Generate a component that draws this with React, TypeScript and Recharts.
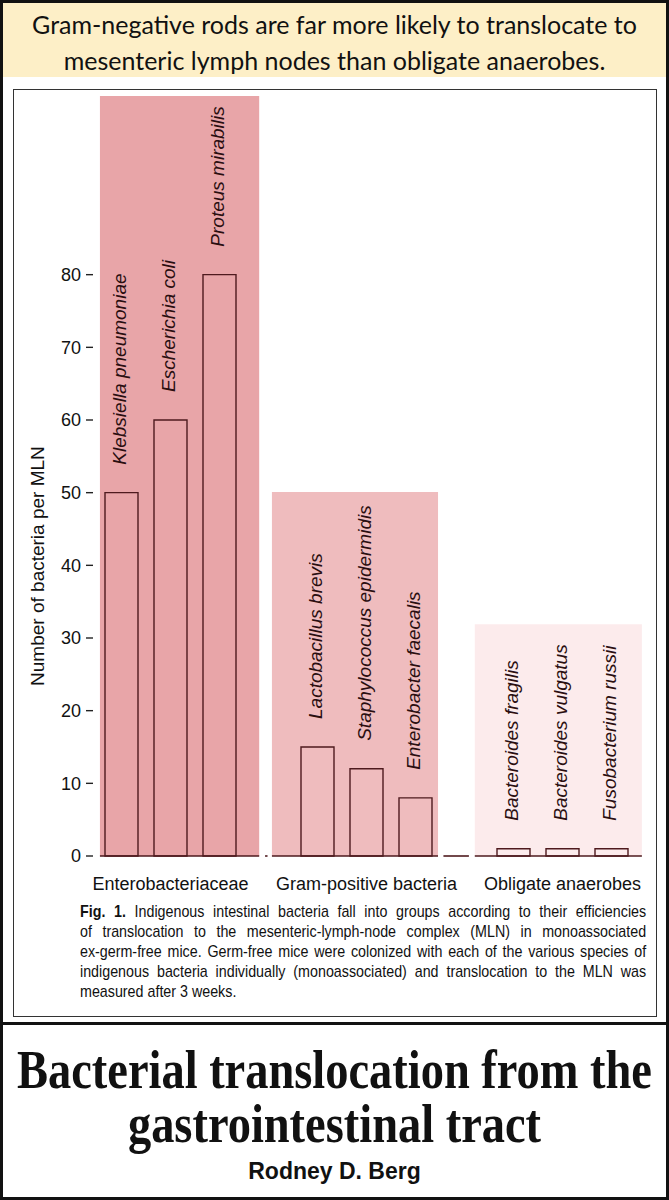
import React from "react";
import {
  BarChart,
  Bar,
  XAxis,
  YAxis,
  ReferenceArea,
  ReferenceLine,
  LabelList,
} from "recharts";

const groups = ["Enterobacteriaceae", "Gram-positive bacteria", "Obligate anaerobes"];

const enterobacteria = ["Klebsiella pneumoniae", "Escherichia coli", "Proteus mirabilis"];
const enterobacteriaValues = [50, 60, 80];

const gramPositive = ["Lactobacillus brevis", "Staphylococcus epidermidis", "Enterobacter faecalis"];
const gramPositiveValues = [15, 12, 8];

const anaerobes = ["Bacteroides fragilis", "Bacteroides vulgatus", "Fusobacterium russii"];
const anaerobeValues = [1, 1, 1];

const yTicks = [0, 10, 20, 30, 40, 50, 60, 70, 80];

// height of the shaded panel behind each group, in y units
const panelTops = [104.6, 50.1, 31.9];

const captionLines = [
  "Indigenous intestinal bacteria fall into groups according to their efficiencies",
  "of translocation to the mesenteric-lymph-node complex (MLN) in monoassociated",
  "ex-germ-free mice. Germ-free mice were colonized with each of the various species of",
  "indigenous bacteria individually (monoassociated) and translocation to the MLN was",
  "measured after 3 weeks.",
];

// layout only: panel spans on the hidden slot axis (slot i = centre of bar i)
const PANEL_SPANS = [
  [-0.44, 2.81],
  [3.07, 6.46],
  [7.21, 10.62],
];
const PANEL_COLORS = ["#e8a5a8", "#efbcbe", "#fcebec"];
const BAR_STROKE = "#4e1a1e";

const speciesByGroup = [enterobacteria, gramPositive, anaerobes];
const valuesByGroup = [enterobacteriaValues, gramPositiveValues, anaerobeValues];

type Row = { key: string; name: string; value: number | null; group: string; mid: boolean; slot: number };
const rows: Row[] = [];
speciesByGroup.forEach((list, g) => {
  if (g > 0) rows.push({ key: `gap${g}`, name: "", value: null, group: "", mid: false, slot: rows.length });
  list.forEach((name, i) =>
    rows.push({
      key: name,
      name,
      value: valuesByGroup[g][i],
      group: groups[g],
      mid: i === 1,
      slot: rows.length,
    })
  );
});

const SANS = "'Liberation Sans', Arial, sans-serif";

const YTick = (props: any) => {
  const { x, y, payload } = props;
  return (
    <g>
      <text x={x} y={y} dy="0.36em" textAnchor="end" fontSize={18} fontFamily={SANS} fill="#111">
        {payload.value}
      </text>
      <line x1={x + 5} x2={x + 12} y1={y} y2={y} stroke="#222" strokeWidth={1.4} />
    </g>
  );
};

const XTick = (props: any) => {
  const { x, y, payload } = props;
  const row = rows.find((r) => r.key === payload.value);
  if (!row || !row.mid) return null;
  return (
    <text x={x} y={y + 34} textAnchor="middle" fontSize={18} fontFamily={SANS} fill="#111">
      {row.group}
    </text>
  );
};

const YTitle = (props: any) => {
  const { viewBox } = props;
  const cx = viewBox.x + 21;
  const cy = viewBox.y + viewBox.height * 0.62;
  return (
    <text
      x={cx}
      y={cy}
      transform={`rotate(-90 ${cx} ${cy})`}
      textAnchor="middle"
      dominantBaseline="central"
      fontSize={19}
      fontFamily={SANS}
      fill="#111"
    >
      Number of bacteria per MLN
    </text>
  );
};

const SpeciesLabel = (props: any) => {
  const { x, y, width, value } = props;
  if (!value) return null;
  const cx = Number(x) + Number(width) / 2 - 2;
  const ty = Number(y) - 28;
  return (
    <text
      x={cx}
      y={ty}
      transform={`rotate(-90 ${cx} ${ty})`}
      dominantBaseline="central"
      fontStyle="italic"
      fontSize={19}
      fontFamily={SANS}
      fill="#2a0e10"
    >
      {value}
    </text>
  );
};

function TranslocationChart() {
  return (
    <BarChart
      width={669}
      height={900}
      data={rows}
      margin={{ top: 93, right: 33, left: 17, bottom: 0 }}
    >
      <XAxis
        dataKey="key"
        type="category"
        axisLine={false}
        tickLine={false}
        tickSize={0}
        tickMargin={0}
        interval={0}
        height={44}
        tick={<XTick />}
      />
      <XAxis
        xAxisId="slots"
        dataKey="slot"
        type="number"
        domain={[0, 10]}
        padding={{ left: 24.5, right: 24.5 }}
        allowDataOverflow
        hide
      />
      <YAxis
        type="number"
        domain={[0, 105]}
        ticks={yTicks}
        width={80}
        axisLine={false}
        tickLine={false}
        tickSize={7}
        tickMargin={9}
        tick={<YTick />}
        label={<YTitle />}
      />
      {PANEL_SPANS.map(([a, b], i) => (
        <ReferenceArea
          key={`panel${i}`}
          xAxisId="slots"
          x1={a}
          x2={b}
          y1={0}
          y2={panelTops[i]}
          fill={PANEL_COLORS[i]}
          fillOpacity={1}
          stroke="none"
          ifOverflow="visible"
        />
      ))}
      {PANEL_SPANS.map(([a, b], i) => (
        <ReferenceLine
          key={`base${i}`}
          xAxisId="slots"
          segment={[{ x: a, y: 0 }, { x: b, y: 0 }]}
          stroke={BAR_STROKE}
          strokeWidth={1.6}
          ifOverflow="visible"
        />
      ))}
      <ReferenceLine
        xAxisId="slots"
        segment={[{ x: 2.93, y: 0 }, { x: 2.98, y: 0 }]}
        stroke={BAR_STROKE}
        strokeWidth={1.6}
        ifOverflow="visible"
      />
      <ReferenceLine
        xAxisId="slots"
        segment={[{ x: 6.57, y: 0 }, { x: 7.09, y: 0 }]}
        stroke={BAR_STROKE}
        strokeWidth={1.6}
        ifOverflow="visible"
      />
      <Bar
        dataKey="value"
        barSize={33}
        fill="none"
        stroke={BAR_STROKE}
        strokeWidth={1.4}
        isAnimationActive={false}
      >
        <LabelList dataKey="name" content={<SpeciesLabel />} />
      </Bar>
    </BarChart>
  );
}

export default function App() {
  return (
    <div style={{ position: "relative", width: 669, height: 1200, background: "#fff", overflow: "hidden" }}>
      <style>{`body{margin:0}`}</style>
      <div
        style={{
          position: "absolute",
          left: 0,
          top: 0,
          width: 669,
          height: 77,
          background: "#fdefc7",
          fontFamily: "Lato, 'Open Sans', sans-serif",
          fontSize: 25,
          lineHeight: "36px",
          textAlign: "center",
          color: "#111",
          paddingTop: 6,
          boxSizing: "border-box",
          whiteSpace: "nowrap",
        }}
      >
        <div>Gram-negative rods are far more likely to translocate to</div>
        <div>mesenteric lymph nodes than obligate anaerobes.</div>
      </div>
      <div
        style={{
          position: "absolute",
          left: 13,
          top: 89,
          width: 644,
          height: 928,
          border: "1.5px solid #333",
          boxSizing: "border-box",
        }}
      />
      <div style={{ position: "absolute", left: 0, top: 0 }}>
        <TranslocationChart />
      </div>
      <div
        style={{
          position: "absolute",
          left: 80,
          top: 902,
          width: 674,
          fontFamily: SANS,
          fontSize: 17,
          lineHeight: "20px",
          color: "#111",
          transform: "scaleX(0.84)",
          transformOrigin: "0 0",
        }}
      >
        {captionLines.map((line, i) => (
          <div
            key={i}
            style={{
              textAlign: "justify",
              textAlignLast: i < captionLines.length - 1 ? "justify" : "left",
              whiteSpace: "nowrap",
            }}
          >
            {i === 0 && <b>Fig. 1. </b>}
            {line}
          </div>
        ))}
      </div>
      <div style={{ position: "absolute", left: 0, top: 1022, width: 669, height: 3, background: "#111" }} />
      <div
        style={{
          position: "absolute",
          left: -100,
          top: 1043,
          width: 869,
          textAlign: "center",
          fontFamily: "'Liberation Serif', 'Times New Roman', serif",
          fontWeight: 700,
          fontSize: 54,
          lineHeight: "54px",
          color: "#111",
          whiteSpace: "nowrap",
          transform: "scaleX(0.86)",
          transformOrigin: "50% 0",
        }}
      >
        <div>Bacterial translocation from the</div>
        <div>gastrointestinal tract</div>
      </div>
      <div
        style={{
          position: "absolute",
          left: 0,
          top: 1158,
          width: 669,
          textAlign: "center",
          fontFamily: SANS,
          fontWeight: 700,
          fontSize: 23,
          color: "#111",
        }}
      >
        Rodney D. Berg
      </div>
      <div
        style={{
          position: "absolute",
          left: 0,
          top: 0,
          width: 669,
          height: 1200,
          border: "3px solid #111",
          boxSizing: "border-box",
          pointerEvents: "none",
        }}
      />
    </div>
  );
}
